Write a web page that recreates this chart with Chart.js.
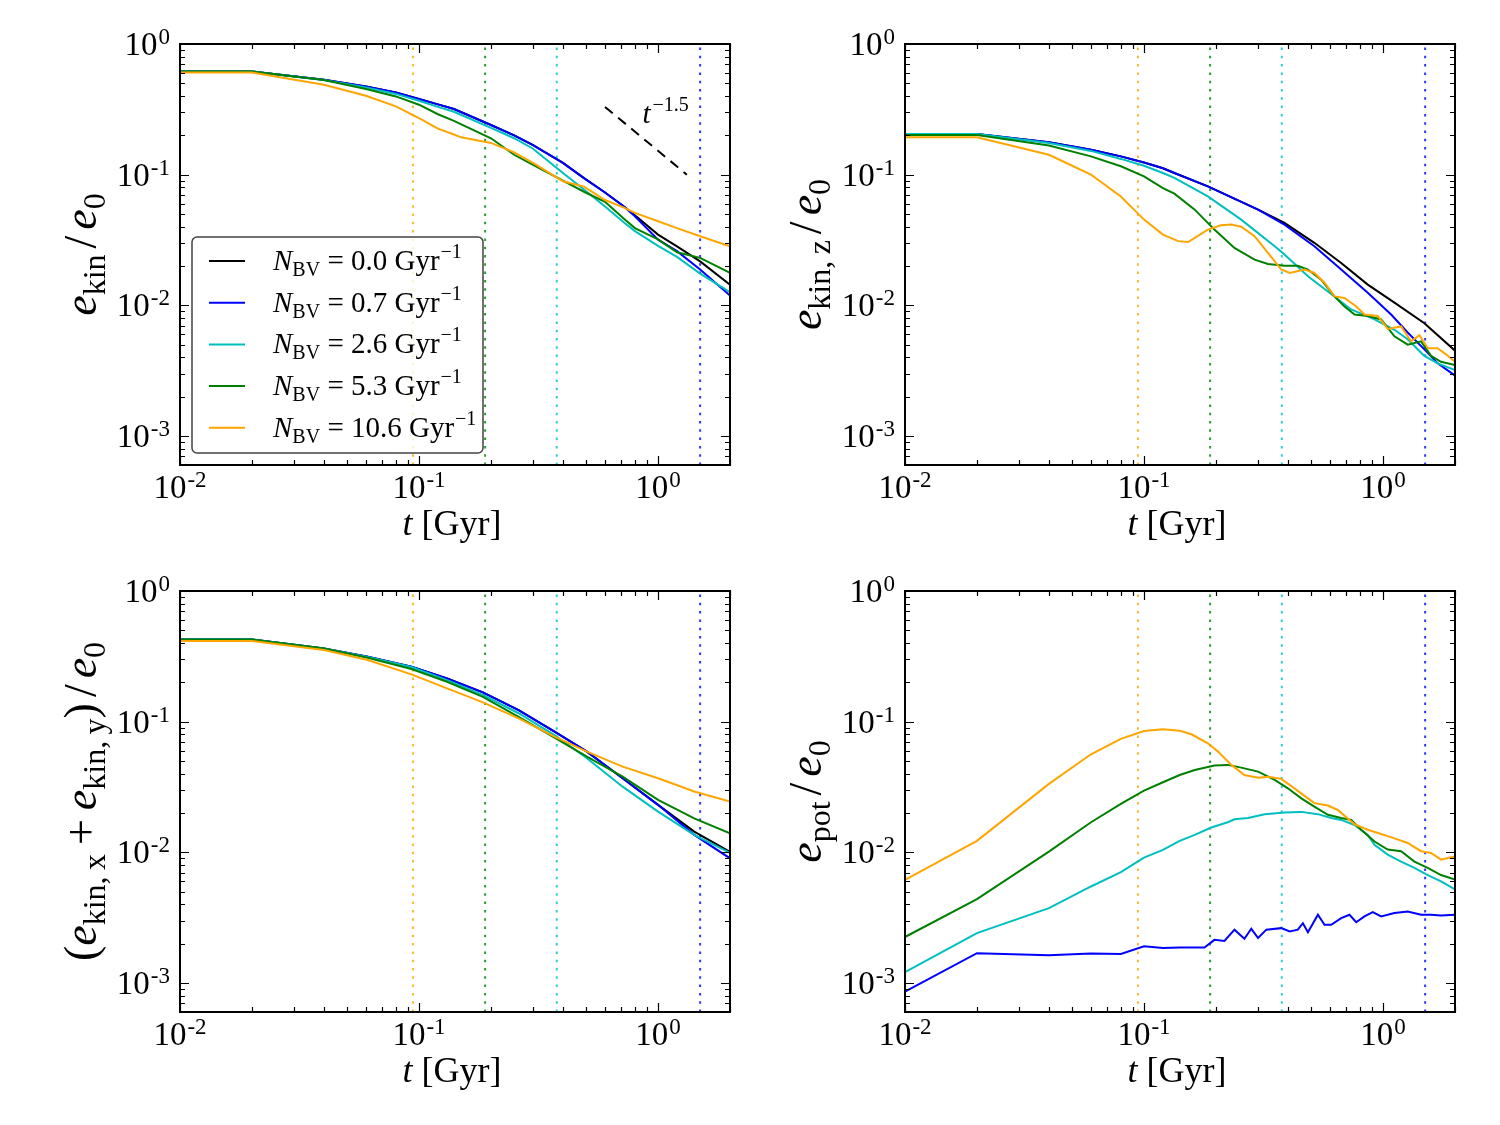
<!DOCTYPE html>
<html>
<head>
<meta charset="utf-8">
<script src="https://cdn.jsdelivr.net/npm/chart.js@4.4.1/dist/chart.umd.min.js"></script>
<style>
  html, body { margin: 0; padding: 0; background: #fff; }
  #wrap { position: relative; width: 1500px; height: 1125px; }
  canvas { position: absolute; }
</style>
</head>
<body>
<div id="wrap">
  <canvas id="c1" width="750" height="563" style="left:0;top:0"></canvas>
  <canvas id="c2" width="750" height="563" style="left:725px;top:0"></canvas>
  <canvas id="c3" width="750" height="563" style="left:0;top:547px"></canvas>
  <canvas id="c4" width="750" height="563" style="left:725px;top:547px"></canvas>
</div>
<script>
// ---- data as [t (Gyr), value] ----
const nbvLabels = ['0.0', '0.7', '2.6', '5.3', '10.6'];
const seriesNames = ['black', 'blue', 'cyan', 'green', 'orange'];
const seriesColors = ['#000000', '#0000ff', '#00bfbf', '#008000', '#ffa500'];

// 1/N_BV marker times (blue, cyan, green, orange)
const vlineTimes = [1.5, 0.377, 0.189, 0.0943];
const vlineColors = ['#0000ff', '#00bfbf', '#008000', '#ffa500'];

// t^-1.5 guide (two end points)
const slopeGuide = [[0.6, 0.33], [1.32, 0.1]];

// e_kin / e_0
const ekinBlack = [[0.01,0.616],[0.02,0.616],[0.04,0.532],[0.06,0.473],[0.08,0.426],[0.1,0.379],[0.12,0.345],[0.14,0.318],[0.2,0.24],[0.25,0.2],[0.3,0.168],[0.4,0.123],[0.49,0.094],[0.6,0.073],[0.72,0.057],[0.8,0.049],[1.0,0.0348],[1.2,0.0283],[1.5,0.0217],[2.0,0.0144]];
const ekinBlue = [[0.01,0.616],[0.02,0.616],[0.04,0.532],[0.06,0.473],[0.08,0.426],[0.1,0.379],[0.12,0.345],[0.14,0.318],[0.2,0.24],[0.25,0.2],[0.3,0.168],[0.4,0.123],[0.49,0.094],[0.6,0.073],[0.72,0.057],[0.8,0.048],[1.0,0.0318],[1.2,0.026],[1.5,0.0188],[2.0,0.0119]];
const ekinCyan = [[0.01,0.616],[0.02,0.616],[0.04,0.53],[0.06,0.465],[0.08,0.415],[0.1,0.368],[0.12,0.33],[0.14,0.303],[0.2,0.228],[0.25,0.19],[0.3,0.158],[0.4,0.103],[0.49,0.077],[0.6,0.057],[0.72,0.043],[0.8,0.037],[1.0,0.0285],[1.2,0.0235],[1.5,0.0175],[2.0,0.0126]];
const ekinGreen = [[0.01,0.616],[0.02,0.616],[0.04,0.53],[0.06,0.452],[0.08,0.397],[0.1,0.343],[0.12,0.29],[0.14,0.258],[0.2,0.19],[0.25,0.142],[0.3,0.119],[0.4,0.09],[0.49,0.074],[0.6,0.062],[0.72,0.046],[0.8,0.039],[1.0,0.032],[1.2,0.0255],[1.5,0.0231],[2.0,0.0177]];
const ekinOrange = [[0.01,0.606],[0.02,0.606],[0.04,0.488],[0.06,0.402],[0.08,0.333],[0.1,0.271],[0.12,0.225],[0.14,0.203],[0.15,0.193],[0.2,0.175],[0.25,0.148],[0.3,0.123],[0.4,0.089],[0.49,0.081],[0.6,0.064],[0.72,0.056],[0.8,0.051],[1.0,0.044],[1.2,0.039],[1.5,0.0338],[2.0,0.0283]];

// e_kin,z / e_0
const ezBlack = [[0.01,0.205],[0.02,0.205],[0.04,0.177],[0.06,0.155],[0.08,0.138],[0.1,0.124],[0.12,0.112],[0.134,0.103],[0.185,0.0814],[0.3,0.054],[0.387,0.0427],[0.516,0.0301],[0.668,0.0211],[0.863,0.0144],[1.116,0.0105],[1.489,0.0073],[2.0,0.0045]];
const ezBlue = [[0.01,0.205],[0.02,0.205],[0.04,0.177],[0.06,0.155],[0.08,0.138],[0.1,0.124],[0.12,0.112],[0.134,0.103],[0.185,0.0814],[0.3,0.054],[0.387,0.0415],[0.516,0.0283],[0.668,0.0188],[0.863,0.0125],[1.081,0.0085],[1.268,0.0062],[1.489,0.0046],[1.693,0.0036],[2.0,0.0029]];
const ezCyan = [[0.01,0.205],[0.02,0.205],[0.04,0.175],[0.06,0.152],[0.08,0.132],[0.1,0.117],[0.12,0.103],[0.134,0.0944],[0.185,0.0682],[0.255,0.0453],[0.352,0.0283],[0.387,0.0245],[0.485,0.0167],[0.626,0.0117],[0.736,0.0093],[0.921,0.0078],[1.116,0.0065],[1.268,0.0055],[1.489,0.0041],[1.693,0.0036],[2.0,0.0032]];
const ezGreen = [[0.01,0.201],[0.02,0.201],[0.04,0.167],[0.06,0.138],[0.08,0.116],[0.1,0.097],[0.12,0.079],[0.134,0.0716],[0.163,0.054],[0.197,0.038],[0.239,0.0275],[0.29,0.0224],[0.33,0.0207],[0.387,0.0201],[0.44,0.0201],[0.485,0.0188],[0.551,0.0157],[0.626,0.0117],[0.69,0.0098],[0.76,0.0085],[0.863,0.0083],[0.982,0.0078],[1.116,0.0058],[1.268,0.005],[1.443,0.0053],[1.588,0.0041],[1.748,0.0037],[2.0,0.0035]];
const ezOrange = [[0.01,0.193],[0.02,0.193],[0.04,0.142],[0.06,0.1],[0.08,0.068],[0.1,0.0453],[0.12,0.0348],[0.139,0.031],[0.153,0.0305],[0.185,0.038],[0.21,0.041],[0.232,0.0415],[0.255,0.04],[0.29,0.0338],[0.33,0.0252],[0.375,0.0188],[0.407,0.0177],[0.47,0.0188],[0.516,0.0177],[0.569,0.0149],[0.627,0.0117],[0.69,0.0114],[0.773,0.0098],[0.836,0.0085],[0.95,0.0083],[1.047,0.0066],[1.19,0.0069],[1.31,0.0053],[1.42,0.0059],[1.54,0.0047],[1.69,0.0047],[1.84,0.0042],[2.0,0.0037]];

// (e_kin,x + e_kin,y) / e_0
const exyBlack = [[0.01,0.426],[0.02,0.426],[0.04,0.363],[0.061,0.314],[0.093,0.263],[0.131,0.214],[0.185,0.1675],[0.261,0.1227],[0.369,0.0839],[0.504,0.059],[0.711,0.0369],[1.0,0.0231],[1.417,0.0144],[2.0,0.0101]];
const exyBlue = [[0.01,0.426],[0.02,0.426],[0.04,0.363],[0.061,0.314],[0.093,0.263],[0.131,0.214],[0.185,0.1675],[0.261,0.1227],[0.369,0.0839],[0.504,0.059],[0.711,0.0369],[1.0,0.0231],[1.417,0.0136],[2.0,0.009]];
const exyCyan = [[0.01,0.426],[0.02,0.426],[0.04,0.363],[0.061,0.313],[0.093,0.262],[0.131,0.208],[0.185,0.16],[0.261,0.116],[0.369,0.079],[0.504,0.0525],[0.711,0.0318],[1.0,0.0205],[1.417,0.0136],[2.0,0.0099]];
const exyGreen = [[0.01,0.426],[0.02,0.426],[0.04,0.363],[0.061,0.308],[0.093,0.253],[0.131,0.202],[0.185,0.155],[0.261,0.109],[0.369,0.0755],[0.504,0.054],[0.711,0.038],[1.0,0.0252],[1.417,0.0182],[2.0,0.014]];
const exyOrange = [[0.01,0.414],[0.02,0.414],[0.04,0.353],[0.061,0.296],[0.093,0.23],[0.131,0.18],[0.185,0.1405],[0.261,0.106],[0.369,0.0767],[0.504,0.059],[0.711,0.0453],[1.0,0.0369],[1.417,0.0292],[2.0,0.0245]];

// e_pot / e_0 (no N_BV = 0 curve)
const epotBlue = [[0.01,0.00086],[0.02,0.00169],[0.04,0.00163],[0.06,0.00168],[0.08,0.00167],[0.1,0.00191],[0.12,0.00185],[0.141,0.00187],[0.179,0.00187],[0.197,0.00214],[0.217,0.0021],[0.239,0.00256],[0.263,0.00218],[0.281,0.0026],[0.3,0.00221],[0.325,0.00256],[0.375,0.00263],[0.407,0.00248],[0.44,0.00256],[0.462,0.00287],[0.485,0.00245],[0.534,0.00333],[0.569,0.00279],[0.607,0.00279],[0.668,0.00314],[0.724,0.00333],[0.772,0.00292],[0.836,0.00323],[0.906,0.00349],[0.982,0.00323],[1.116,0.00343],[1.268,0.00353],[1.443,0.00333],[1.588,0.00333],[1.748,0.00329],[2.0,0.00333]];
const epotCyan = [[0.01,0.00121],[0.02,0.00241],[0.04,0.00374],[0.06,0.00548],[0.08,0.00706],[0.1,0.00912],[0.12,0.01045],[0.141,0.01225],[0.163,0.0136],[0.191,0.0155],[0.224,0.017],[0.239,0.0179],[0.272,0.0183],[0.32,0.0196],[0.387,0.0202],[0.455,0.0204],[0.534,0.0196],[0.607,0.0183],[0.668,0.0177],[0.76,0.0162],[0.863,0.0136],[0.921,0.0114],[1.046,0.0096],[1.19,0.0085],[1.353,0.0076],[1.538,0.0067],[1.748,0.006],[2.0,0.0052]];
const epotGreen = [[0.01,0.00225],[0.02,0.00439],[0.04,0.01014],[0.06,0.017],[0.08,0.0235],[0.1,0.0297],[0.12,0.0344],[0.141,0.0391],[0.163,0.0427],[0.197,0.0461],[0.224,0.0467],[0.255,0.0445],[0.3,0.0415],[0.352,0.0358],[0.4,0.0309],[0.455,0.0259],[0.516,0.0224],[0.588,0.0194],[0.668,0.0183],[0.736,0.0177],[0.81,0.0149],[0.921,0.0121],[1.046,0.0105],[1.19,0.0102],[1.353,0.0085],[1.538,0.0076],[1.748,0.0067],[2.0,0.0062]];
const epotOrange = [[0.01,0.00616],[0.02,0.01225],[0.04,0.0334],[0.06,0.0563],[0.08,0.0738],[0.1,0.0849],[0.12,0.0875],[0.141,0.0853],[0.158,0.0801],[0.185,0.0683],[0.204,0.059],[0.232,0.0467],[0.263,0.0391],[0.3,0.0373],[0.33,0.0378],[0.375,0.0365],[0.426,0.0309],[0.485,0.0259],[0.516,0.0238],[0.588,0.0228],[0.647,0.0211],[0.76,0.0164],[0.863,0.0149],[0.982,0.0138],[1.116,0.0128],[1.268,0.0118],[1.443,0.0102],[1.588,0.0099],[1.748,0.0088],[2.0,0.0093]];

const xMin = 0.01, xMax = 2.0, yMin = 6e-4, yMax = 1.0;
const xDecades = [[0.01, '-2'], [0.1, '-1'], [1, '0']];
const yDecades = [[1, '0'], [0.1, '-1'], [0.01, '-2'], [0.001, '-3']];

// ---- drawing helpers ----
const SERIF = "'Liberation Serif', 'DejaVu Serif', serif";
// text piece: size in px, italic flag, baseline shift, extra gap before it
function seg(text, size, italic, dy, gap) { return { text, size, italic: !!italic, dy: dy || 0, gap: gap || 0 }; }
function fontOf(s) { return (s.italic ? 'italic ' : '') + s.size + 'px ' + SERIF; }
function richWidth(ctx, segs) {
  let w = 0;
  for (const s of segs) { ctx.font = fontOf(s); w += s.gap + ctx.measureText(s.text).width; }
  return w;
}
function drawRich(ctx, segs, x, y, align) {
  const w = richWidth(ctx, segs);
  let cx = align === 'center' ? x - w / 2 : align === 'right' ? x - w : x;
  ctx.textAlign = 'left';
  ctx.textBaseline = 'alphabetic';
  for (const s of segs) {
    ctx.font = fontOf(s);
    cx += s.gap;
    ctx.fillText(s.text, cx, y + s.dy);
    cx += ctx.measureText(s.text).width;
  }
}
function powLabel(exp) { return [seg('10', 33), seg(exp, 23, false, -11, 1)]; }

function decor(panel) {
  return {
    id: 'decor',
    afterDatasetsDraw(chart) {
      const ctx = chart.ctx, a = chart.chartArea, xs = chart.scales.x, ys = chart.scales.y;
      ctx.save();
      ctx.fillStyle = '#000';
      ctx.strokeStyle = '#000';
      // inward ticks on all four sides
      ctx.lineWidth = 1.2;
      ctx.beginPath();
      for (let n = -2; n <= 0; n++) {
        for (let k = 1; k <= 9; k++) {
          const v = k * Math.pow(10, n);
          if (v > xMax * 1.0001) break;
          const px = Math.round(xs.getPixelForValue(v)) + 0.5;
          const L = k === 1 ? 9 : 5;
          ctx.moveTo(px, a.bottom); ctx.lineTo(px, a.bottom - L);
          ctx.moveTo(px, a.top); ctx.lineTo(px, a.top + L);
        }
      }
      for (let n = -4; n <= 0; n++) {
        for (let k = 1; k <= 9; k++) {
          const v = k * Math.pow(10, n);
          if (v < yMin * 0.9999 || v > yMax * 1.0001) continue;
          const py = Math.round(ys.getPixelForValue(v)) + 0.5;
          const L = k === 1 ? 9 : 5;
          ctx.moveTo(a.left, py); ctx.lineTo(a.left + L, py);
          ctx.moveTo(a.right, py); ctx.lineTo(a.right - L, py);
        }
      }
      ctx.stroke();
      // frame
      ctx.lineWidth = 2;
      ctx.strokeRect(a.left, a.top, a.right - a.left, a.bottom - a.top);

      // tick labels
      for (const [v, e] of xDecades) drawRich(ctx, powLabel(e), xs.getPixelForValue(v), a.bottom + 33, 'center');
      for (const [v, e] of yDecades) drawRich(ctx, powLabel(e), a.left - 10, ys.getPixelForValue(v) + 11, 'right');

      // axis titles
      drawRich(ctx, [seg('t', 36, true), seg(' [Gyr]', 36)], (a.left + a.right) / 2 - 3, a.bottom + 70, 'center');
      ctx.save();
      ctx.translate(a.left - 84, (a.top + a.bottom) / 2);
      ctx.rotate(-Math.PI / 2);
      drawRich(ctx, panel.ylabel, 0, 0, 'center');
      ctx.restore();

      if (panel.guide) {
        drawRich(ctx, [seg('t', 29, true), seg('\u22121.5', 20, false, -12, 2)],
          xs.getPixelForValue(0.86), ys.getPixelForValue(0.25), 'left');
      }
      if (panel.legend) {
        const bx = a.left + 12, by = a.top + 193, bw = 291, bh = 216;
        ctx.beginPath();
        ctx.roundRect(bx, by, bw, bh, 5);
        ctx.fillStyle = 'rgba(255,255,255,0.8)';
        ctx.fill();
        ctx.lineWidth = 1.5;
        ctx.strokeStyle = '#444';
        ctx.stroke();
        for (let i = 0; i < nbvLabels.length; i++) {
          const cy = by + 24 + i * 41.7;
          ctx.strokeStyle = seriesColors[i];
          ctx.lineWidth = 2;
          ctx.beginPath();
          ctx.moveTo(bx + 17, cy); ctx.lineTo(bx + 53, cy);
          ctx.stroke();
          ctx.fillStyle = '#000';
          drawRich(ctx, [seg('N', 29, true), seg('BV', 20, false, 6), seg(' = ' + nbvLabels[i] + ' Gyr', 29), seg('\u22121', 20, false, -12, 1)],
            bx + 81, cy + 9, 'left');
        }
      }
      ctx.restore();
    }
  };
}

function toXY(arr) { return arr.map(p => ({ x: p[0], y: p[1] })); }

function makePanel(panel) {
  const datasets = [];
  // later entries are drawn first in Chart.js, so the list runs orange -> black
  for (let i = seriesNames.length - 1; i >= 0; i--) {
    const d = panel.series[i];
    if (!d) continue;
    datasets.push({ data: toXY(d), borderColor: seriesColors[i], borderWidth: 2, pointRadius: 0, tension: 0, fill: false });
  }
  if (panel.guide) {
    datasets.push({ data: toXY(slopeGuide), borderColor: '#000', borderWidth: 2, borderDash: [10, 7], pointRadius: 0 });
  }
  vlineTimes.forEach((t, i) => {
    datasets.push({ data: [{ x: t, y: yMin }, { x: t, y: yMax }], borderColor: vlineColors[i] + 'cc', borderWidth: 2,
      borderDash: [2.5, 5.8], pointRadius: 0 });
  });
  new Chart(document.getElementById(panel.id), {
    type: 'line',
    data: { datasets },
    options: {
      responsive: false,
      animation: false,
      layout: { padding: { left: 180, right: 20, top: 44, bottom: 98 } },
      plugins: { legend: { display: false }, tooltip: { enabled: false } },
      scales: {
        x: { type: 'logarithmic', min: xMin, max: xMax, display: false },
        y: { type: 'logarithmic', min: yMin, max: yMax, display: false }
      }
    },
    plugins: [decor(panel)]
  });
}

const YL = 46, YS = 32, YD = 9, SL = 6;
const over = [seg('/', YL, false, 0, SL), seg('e', YL, true, 0, SL), seg('0', YS, false, YD)];
makePanel({ id: 'c1', series: [ekinBlack, ekinBlue, ekinCyan, ekinGreen, ekinOrange], legend: true, guide: true,
  ylabel: [seg('e', YL, true), seg('kin', YS, false, YD)].concat(over) });
makePanel({ id: 'c2', series: [ezBlack, ezBlue, ezCyan, ezGreen, ezOrange],
  ylabel: [seg('e', YL, true), seg('kin,\u2009z', YS, false, YD)].concat(over) });
makePanel({ id: 'c3', series: [exyBlack, exyBlue, exyCyan, exyGreen, exyOrange],
  ylabel: [seg('(', YL), seg('e', YL, true), seg('kin,\u2009x', YS, false, YD), seg('+', YL, false, 0, 9), seg('e', YL, true, 0, 9),
           seg('kin,\u2009y', YS, false, YD), seg(')', YL)].concat(over) });
makePanel({ id: 'c4', series: [null, epotBlue, epotCyan, epotGreen, epotOrange],
  ylabel: [seg('e', YL, true), seg('pot', YS, false, YD)].concat(over) });
</script>
</body>
</html>
